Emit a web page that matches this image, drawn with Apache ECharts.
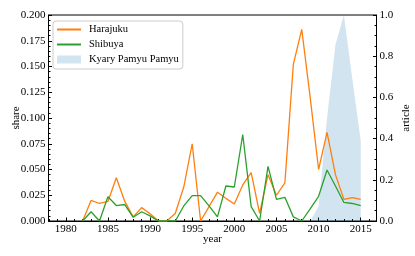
<!DOCTYPE html>
<html>
<head>
<meta charset="utf-8">
<script src="https://cdn.jsdelivr.net/npm/echarts@6/dist/echarts.min.js"></script>
<style>html,body{margin:0;padding:0;background:#fff;}#c{width:415px;height:256px;}</style>
</head>
<body>
<div id="c"></div>
<script>
const years = [1982,1983,1984,1985,1986,1987,1988,1989,1990,1991,1992,1993,1994,1995,1996,1997,1998,1999,2000,2001,2002,2003,2004,2005,2006,2007,2008,2009,2010,2011,2012,2013,2014,2015];
const harajuku = [0,0.020,0.017,0.019,0.042,0.019,0.004,0.013,0.007,0,0,0.0075,0.033,0.075,0,0.014,0.028,0.022,0.0165,0.035,0.047,0.0075,0.045,0.025,0.037,0.152,0.186,0.12,0.050,0.086,0.045,0.021,0.0226,0.021];
const shibuya = [0,0.009,0,0.0236,0.015,0.016,0.0036,0.009,0.005,0,0,0,0.0146,0.0246,0.0246,0.0146,0.004,0.034,0.033,0.084,0.014,0,0.053,0.021,0.023,0.004,0,0.0117,0.024,0.0495,0.034,0.018,0.017,0.015];
const kyaryYears = [2009,2010,2011,2012,2013,2014,2015];
const kyary = [0,0.07,0.5,0.855,1.0,0.69,0.39];
const xLabels = [1980,1985,1990,1995,2000,2005,2010,2015];
const xMinor = [1978,1979,1980,1981,1982,1983,1984,1985,1986,1987,1988,1989,1990,1991,1992,1993,1994,1995,1996,1997,1998,1999,2000,2001,2002,2003,2004,2005,2006,2007,2008,2009,2010,2011,2012,2013,2014,2015,2016];

const F = 'Liberation Serif';
const FS = 11;
const chart = echarts.init(document.getElementById('c'), null, {renderer:'canvas'});
const pair = (xs, ys) => xs.map((x,i)=>[x, ys[i]]);
chart.setOption({
  animation:false,
  textStyle:{fontFamily:F},
  grid:{left:48.5, right:38.5, top:15, bottom:35, show:true, borderColor:'#000', borderWidth:1, backgroundColor:'transparent', containLabel:false, outerBoundsMode:'none'},
  legend:{
    orient:'vertical', left:53, top:21,
    itemWidth:24, itemHeight:8, itemGap:4,
    backgroundColor:'#fff', borderColor:'#cccccc', borderWidth:1, borderRadius:3,
    padding:[3,4,4,3],
    textStyle:{fontFamily:F, fontSize:10.5, color:'#000', padding:[0,0,0,3]},
    data:[
      {name:'Harajuku', itemStyle:{opacity:0, borderWidth:0}},
      {name:'Shibuya', itemStyle:{opacity:0, borderWidth:0}},
      {name:'Kyary Pamyu Pamyu', icon:'rect', itemStyle:{color:'rgba(31,119,180,0.2)'}}
    ]
  },
  xAxis:[{
    type:'value', min:1977.95, max:2016.87,
    name:'year', nameLocation:'middle', nameGap:18, nameMoveOverlap:false,
    nameTextStyle:{fontFamily:F, fontSize:FS, color:'#000', verticalAlign:'middle'},
    axisLine:{show:true, lineStyle:{color:'#000', width:1}},
    axisTick:{show:true, inside:true, length:3.5, customValues:xLabels, lineStyle:{color:'#000'}},
    axisLabel:{customValues:xLabels, fontFamily:F, fontSize:FS, color:'#000', margin:3, formatter:v=>String(Math.round(v))},
    splitLine:{show:false}
  },{
    type:'value', min:1977.95, max:2016.87, position:'bottom',
    axisLine:{show:false},
    axisTick:{show:true, inside:true, length:2, customValues:xMinor, lineStyle:{color:'#000'}},
    axisLabel:{show:false},
    splitLine:{show:false}
  }],
  yAxis:[{
    type:'value', min:0, max:0.2, interval:0.025, position:'left',
    name:'share', nameLocation:'middle', nameGap:32, nameRotate:90, nameMoveOverlap:false,
    nameTextStyle:{fontFamily:F, fontSize:FS, color:'#000', verticalAlign:'middle'},
    axisLine:{show:true, lineStyle:{color:'#000', width:1}},
    axisTick:{show:true, inside:true, length:3.5, lineStyle:{color:'#000'}},
    minorTick:{show:true, splitNumber:5, length:2, lineStyle:{color:'#000'}},
    axisLabel:{fontFamily:F, fontSize:FS, color:'#000', margin:3, formatter:v=>v.toFixed(3)},
    splitLine:{show:false}
  },{
    type:'value', min:0, max:1, interval:0.2, position:'right',
    name:'article', nameLocation:'middle', nameGap:29.5, nameRotate:90, nameMoveOverlap:false,
    nameTextStyle:{fontFamily:F, fontSize:FS, color:'#000', verticalAlign:'middle'},
    axisLine:{show:true, lineStyle:{color:'#000', width:1}},
    axisTick:{show:true, inside:true, length:3.5, lineStyle:{color:'#000'}},
    minorTick:{show:true, splitNumber:4, length:2, lineStyle:{color:'#000'}},
    axisLabel:{fontFamily:F, fontSize:FS, color:'#000', margin:3, formatter:v=>v.toFixed(1)},
    splitLine:{show:false}
  }],
  series:[
    {name:'Kyary Pamyu Pamyu', type:'line', xAxisIndex:0, yAxisIndex:1, data:pair(kyaryYears,kyary),
     symbol:'none', lineStyle:{width:0, color:'rgba(31,119,180,0.2)'}, itemStyle:{color:'rgba(31,119,180,0.2)'},
     areaStyle:{color:'rgba(31,119,180,0.2)', opacity:1}, z:1},
    {name:'Harajuku', type:'line', xAxisIndex:0, yAxisIndex:0, data:pair(years,harajuku),
     symbol:'none', lineStyle:{width:1.3, color:'#ff7f0e'}, itemStyle:{color:'#ff7f0e'}, z:3},
    {name:'Shibuya', type:'line', xAxisIndex:0, yAxisIndex:0, data:pair(years,shibuya),
     symbol:'none', lineStyle:{width:1.3, color:'#2ca02c'}, itemStyle:{color:'#2ca02c'}, z:4}
  ]
});
</script>
</body>
</html>
